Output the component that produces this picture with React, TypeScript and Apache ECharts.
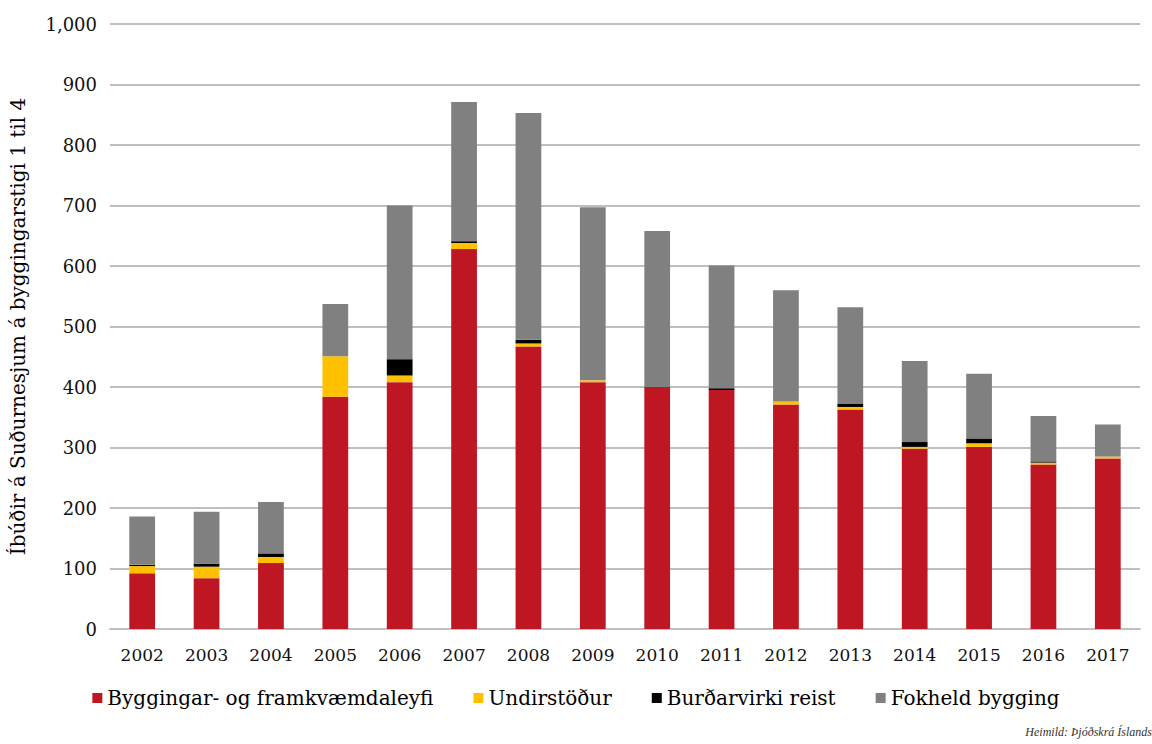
import React, { useEffect, useRef } from "react";
import * as echarts from "echarts";

const years = ["2002", "2003", "2004", "2005", "2006", "2007", "2008", "2009", "2010", "2011", "2012", "2013", "2014", "2015", "2016", "2017"];
const leyfi = [92, 84, 109, 384, 408, 628, 467, 408, 400, 395, 371, 363, 298, 301, 272, 282];
const undirstodur = [12, 19, 10, 67, 11, 10, 5, 3, 0, 0, 5, 4, 3, 6, 3, 3];
const burdarvirki = [2, 5, 6, 0, 27, 3, 6, 0, 0, 3, 0, 5, 8, 8, 2, 0];
const fokheld = [80, 86, 85, 86, 254, 230, 375, 286, 258, 203, 184, 160, 134, 107, 75, 53];

const seriesDefs = [
  { name: "Byggingar- og framkvæmdaleyfi", data: leyfi, color: "#BE1622" },
  { name: "Undirstöður", data: undirstodur, color: "#FFC000" },
  { name: "Burðarvirki reist", data: burdarvirki, color: "#000000" },
  { name: "Fokheld bygging", data: fokheld, color: "#808080" },
];

const FONT = "'DejaVu Serif', 'Liberation Serif', serif";

export default function App() {
  const ref = useRef<HTMLDivElement>(null);
  useEffect(() => {
    if (!ref.current) return;
    const chart = echarts.init(ref.current, null, { renderer: "svg" });
    chart.setOption({
      animation: false,
      backgroundColor: "#ffffff",
      textStyle: { fontFamily: FONT },
      grid: { left: 105, right: 12, top: 24, bottom: 115, containLabel: false },
      legend: {
        bottom: 31,
        left: "center",
        itemWidth: 10,
        itemHeight: 10,
        itemGap: 40,
        icon: "rect",
        textStyle: { fontFamily: FONT, fontSize: 20, color: "#000" },
        data: seriesDefs.map((s) => s.name),
      },
      xAxis: {
        type: "category",
        data: years,
        axisLine: { show: true, lineStyle: { color: "#bfbfbf", width: 2 } },
        axisTick: { show: false },
        axisLabel: { fontFamily: FONT, fontSize: 17, color: "#111", margin: 17 },
      },
      yAxis: {
        type: "value",
        min: 0,
        max: 1000,
        interval: 100,
        name: "Íbúðir á Suðurnesjum á byggingarstigi 1 til 4",
        nameLocation: "middle",
        nameGap: 82,
        nameTextStyle: { fontFamily: FONT, fontSize: 20, color: "#000" },
        axisLine: { show: false },
        axisTick: { show: false },
        splitLine: { lineStyle: { color: "#bfbfbf", width: 2 } },
        axisLabel: {
          fontFamily: FONT,
          fontSize: 18,
          color: "#111",
          margin: 13,
          formatter: (v: number) => v.toLocaleString("en-US"),
        },
      },
      series: seriesDefs.map((s) => ({
        name: s.name,
        type: "bar",
        stack: "total",
        data: s.data,
        barWidth: "40%",
        itemStyle: { color: s.color },
      })),
      graphic: [
        {
          type: "text",
          right: 0,
          bottom: 6,
          style: {
            text: "Heimild: Þjóðskrá Íslands",
            fontFamily: "'Liberation Serif', serif",
            fontStyle: "italic",
            fontSize: 12,
            fill: "#333",
          },
        },
      ],
    });
    return () => chart.dispose();
  }, []);
  return <div ref={ref} style={{ position: "fixed", left: 0, top: 0, width: 1152, height: 744 }} />;
}
